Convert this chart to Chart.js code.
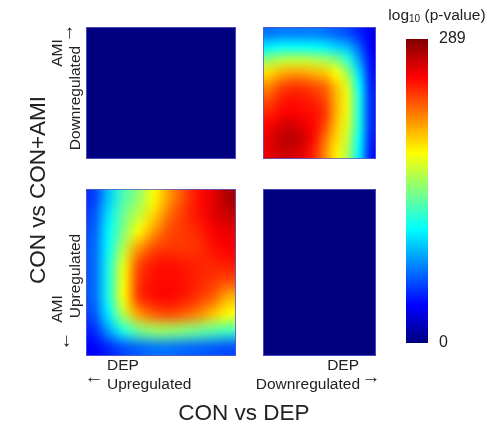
<!DOCTYPE html>
<html>
<head>
<meta charset="utf-8">
<script src="https://cdn.jsdelivr.net/npm/chart.js@4.4.0/dist/chart.umd.min.js"></script>
<style>
  body { margin: 0; background: #fff; }
  #wrap { position: relative; width: 501px; height: 435px; font-family: Arial, "Liberation Sans", sans-serif; color: #222; }
  canvas { position: absolute; }
  .lbl { position: absolute; white-space: nowrap; line-height: 1; font-size: 15.5px; }
  .big { font-size: 22.5px; }
  .arr { font-size: 19px; }
  .rot { transform: translate(-50%, -50%) rotate(-90deg); }
  .mid { transform: translate(-50%, -50%); }
  .vc { transform: translateY(-50%); }
  .vcr { transform: translate(-100%, -50%); }
  sub { font-size: 10px; vertical-align: -2px; }
</style>
</head>
<body>
<div id="wrap">
  <canvas id="heat" width="501" height="435" style="left:0;top:0"></canvas>
  <canvas id="cbar" width="121" height="360" style="left:380px;top:0"></canvas>

  <div class="lbl big rot" style="left:38px;top:190px">CON vs CON+AMI</div>
  <div class="lbl big mid" style="left:244px;top:413px">CON vs DEP</div>

  <div class="lbl rot" style="left:57px;top:53px">AMI</div>
  <div class="lbl arr rot" style="left:66px;top:33px">→</div>
  <div class="lbl rot" style="left:75px;top:98px">Downregulated</div>
  <div class="lbl rot" style="left:75px;top:276px">Upregulated</div>
  <div class="lbl rot" style="left:57px;top:309px">AMI</div>
  <div class="lbl arr rot" style="left:63px;top:341px">←</div>

  <div class="lbl vc" style="left:107px;top:365px">DEP</div>
  <div class="lbl vc" style="left:107px;top:384px">Upregulated</div>
  <div class="lbl arr mid" style="left:94px;top:376px">←</div>
  <div class="lbl vcr" style="left:359px;top:365px">DEP</div>
  <div class="lbl vcr" style="left:360px;top:384px">Downregulated</div>
  <div class="lbl arr mid" style="left:371px;top:376px">→</div>

  <div class="lbl mid" style="left:437px;top:15px">log<sub>10</sub> (p-value)</div>
</div>

<script>
// -log10 p-values, rows top -> bottom, columns left -> right
const colorMax = 289;
const colorTicks = [0, 289];

// CON vs DEP down  x  CON vs CON+AMI down (top right)
const downDownGrid = [
  [ 69,  72,  72,  72,  72,  69,  64,  58,  46,  32],
  [104, 110, 110, 110, 107, 104,  95,  87,  64,  35],
  [150, 159, 162, 162, 159, 153, 145, 121,  81,  40],
  [191, 202, 208, 208, 202, 197, 179, 150,  98,  43],
  [214, 231, 237, 237, 231, 223, 197, 168, 110,  46],
  [231, 243, 249, 246, 243, 231, 202, 173, 116,  49],
  [243, 251, 254, 251, 249, 237, 202, 173, 116,  49],
  [254, 263, 266, 260, 251, 231, 197, 168, 116,  49],
  [260, 269, 272, 266, 249, 220, 191, 162, 110,  46],
  [260, 266, 266, 260, 243, 214, 185, 156, 104,  43]
];

// CON vs DEP up  x  CON vs CON+AMI up (bottom left)
const upUpGrid = [
  [52,  92, 130, 150, 179, 208, 231, 249, 260, 277],
  [58, 101, 139, 162, 191, 220, 237, 249, 260, 269],
  [61, 107, 145, 179, 208, 231, 237, 243, 254, 260],
  [64, 110, 159, 208, 231, 237, 237, 240, 249, 254],
  [64, 116, 173, 231, 246, 249, 246, 243, 243, 246],
  [64, 116, 179, 237, 249, 251, 249, 243, 237, 231],
  [64, 116, 179, 237, 249, 251, 246, 237, 225, 202],
  [58, 104, 159, 208, 225, 231, 225, 214, 197, 179],
  [46,  81, 116, 139, 150, 150, 145, 139, 133, 127],
  [35,  46,  58,  64,  69,  69,  66,  64,  61,  58]
];

// discordant quadrants: nothing significant
const upDownGrid = [[0]];
const downUpGrid = [[0]];

// jet colormap
function jet(t) {
  const c = v => Math.round(255 * Math.max(0, Math.min(1, v)));
  return `rgb(${c(1.5 - Math.abs(4 * t - 3))},${c(1.5 - Math.abs(4 * t - 2))},${c(1.5 - Math.abs(4 * t - 1))})`;
}

// quadrant extents on the rank axes
const xUp = [0, 150], xDown = [177, 290];
const yDown = [0, 132], yUp = [162, 329];

const panels = [
  { grid: upDownGrid, x: xUp, y: yDown },
  { grid: downDownGrid, x: xDown, y: yDown },
  { grid: upUpGrid, x: xUp, y: yUp },
  { grid: downUpGrid, x: xDown, y: yUp }
];

const heatmapPlugin = {
  id: 'heatmap',
  afterDatasetsDraw(chart) {
    const { ctx, scales: { x, y } } = chart;
    panels.forEach(p => {
      const left = x.getPixelForValue(p.x[0]);
      const right = x.getPixelForValue(p.x[1]);
      const top = y.getPixelForValue(p.y[0]);
      const bottom = y.getPixelForValue(p.y[1]);
      const rows = p.grid.length, cols = p.grid[0].length;
      const off = document.createElement('canvas');
      off.width = cols;
      off.height = rows;
      const octx = off.getContext('2d');
      p.grid.forEach((row, r) => row.forEach((v, c) => {
        octx.fillStyle = jet(v / colorMax);
        octx.fillRect(c, r, 1, 1);
      }));
      ctx.save();
      ctx.imageSmoothingEnabled = true;
      ctx.imageSmoothingQuality = 'high';
      ctx.drawImage(off, left, top, right - left, bottom - top);
      ctx.strokeStyle = 'rgba(90, 90, 200, 0.8)';
      ctx.lineWidth = 1;
      ctx.strokeRect(left + 0.5, top + 0.5, right - left - 1, bottom - top - 1);
      ctx.restore();
    });
  }
};

new Chart(document.getElementById('heat'), {
  type: 'scatter',
  data: { datasets: [] },
  options: {
    responsive: false,
    animation: false,
    layout: { padding: { left: 86, right: 125, top: 27, bottom: 79 } },
    plugins: { legend: { display: false }, tooltip: { enabled: false } },
    scales: {
      x: { type: 'linear', min: 0, max: 290, display: false },
      y: { type: 'linear', min: 0, max: 329, reverse: true, display: false }
    }
  },
  plugins: [heatmapPlugin]
});

// colour bar
new Chart(document.getElementById('cbar'), {
  type: 'bar',
  data: {
    labels: [''],
    datasets: [{
      data: [[0, colorMax]],
      barPercentage: 1,
      categoryPercentage: 1,
      backgroundColor: function(context) {
        const { ctx, chartArea } = context.chart;
        if (!chartArea) return jet(1);
        const g = ctx.createLinearGradient(0, chartArea.bottom, 0, chartArea.top);
        for (let i = 0; i <= 8; i++) g.addColorStop(i / 8, jet(i / 8));
        return g;
      }
    }]
  },
  options: {
    responsive: false,
    animation: false,
    layout: { padding: { left: 26, right: 0, top: 39, bottom: 17 } },
    plugins: { legend: { display: false }, tooltip: { enabled: false } },
    scales: {
      x: { display: false },
      y: {
        position: 'right',
        min: 0,
        max: colorMax,
        grid: { display: false },
        border: { display: false },
        ticks: { color: '#222', padding: 3, font: { family: 'Arial', size: 16 } },
        afterBuildTicks: s => { s.ticks = colorTicks.map(v => ({ value: v })); },
        afterFit: s => { s.width = 73; }
      }
    }
  }
});
</script>
</body>
</html>
